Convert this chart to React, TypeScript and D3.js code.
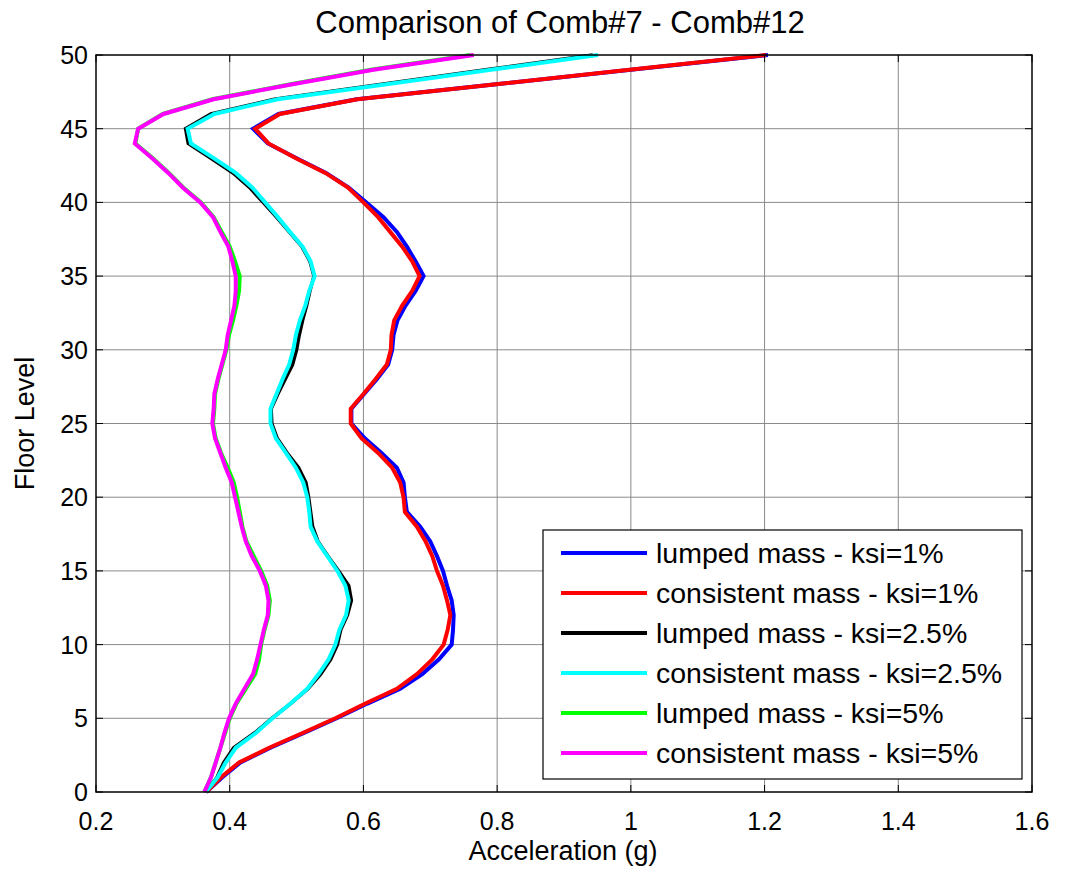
import React from 'react';
import * as d3 from 'd3';

const floors = d3.range(0, 51);

const lumped1 = [0.365, 0.389, 0.416, 0.461, 0.511, 0.560, 0.606, 0.655, 0.688, 0.713, 0.732, 0.734, 0.735, 0.732, 0.725, 0.719, 0.710, 0.700, 0.685, 0.665, 0.662, 0.660, 0.650, 0.627, 0.602, 0.582, 0.582, 0.601, 0.620, 0.637, 0.643, 0.645, 0.651, 0.663, 0.678, 0.690, 0.678, 0.665, 0.650, 0.630, 0.604, 0.578, 0.544, 0.500, 0.457, 0.435, 0.473, 0.590, 0.795, 1.000, 1.205];
const consistent1 = [0.365, 0.387, 0.414, 0.459, 0.509, 0.558, 0.603, 0.650, 0.680, 0.703, 0.720, 0.726, 0.730, 0.725, 0.719, 0.710, 0.703, 0.693, 0.680, 0.662, 0.660, 0.655, 0.643, 0.622, 0.597, 0.581, 0.581, 0.600, 0.618, 0.635, 0.641, 0.642, 0.646, 0.658, 0.673, 0.684, 0.673, 0.658, 0.640, 0.622, 0.600, 0.577, 0.543, 0.499, 0.458, 0.438, 0.475, 0.591, 0.795, 0.998, 1.202];
const lumped25 = [0.364, 0.381, 0.391, 0.406, 0.437, 0.463, 0.491, 0.517, 0.536, 0.551, 0.561, 0.566, 0.576, 0.582, 0.578, 0.563, 0.547, 0.532, 0.524, 0.521, 0.518, 0.514, 0.503, 0.486, 0.471, 0.463, 0.462, 0.472, 0.483, 0.494, 0.500, 0.504, 0.509, 0.515, 0.520, 0.526, 0.520, 0.508, 0.489, 0.470, 0.450, 0.430, 0.405, 0.372, 0.338, 0.334, 0.372, 0.467, 0.625, 0.783, 0.943];
const consistent25 = [0.364, 0.382, 0.394, 0.409, 0.439, 0.464, 0.491, 0.516, 0.533, 0.548, 0.558, 0.564, 0.574, 0.578, 0.573, 0.561, 0.546, 0.531, 0.521, 0.519, 0.516, 0.510, 0.499, 0.484, 0.469, 0.461, 0.461, 0.470, 0.479, 0.489, 0.495, 0.499, 0.505, 0.513, 0.519, 0.527, 0.521, 0.509, 0.490, 0.472, 0.453, 0.434, 0.409, 0.376, 0.342, 0.337, 0.377, 0.472, 0.632, 0.791, 0.951];
const lumped5 = [0.362, 0.372, 0.379, 0.386, 0.393, 0.400, 0.410, 0.424, 0.438, 0.444, 0.447, 0.452, 0.458, 0.460, 0.456, 0.447, 0.436, 0.425, 0.419, 0.415, 0.411, 0.406, 0.397, 0.387, 0.379, 0.375, 0.377, 0.378, 0.383, 0.389, 0.395, 0.399, 0.405, 0.410, 0.414, 0.415, 0.408, 0.400, 0.388, 0.376, 0.357, 0.331, 0.309, 0.285, 0.259, 0.263, 0.300, 0.374, 0.489, 0.611, 0.760];
const consistent5 = [0.362, 0.372, 0.379, 0.386, 0.392, 0.399, 0.409, 0.422, 0.435, 0.441, 0.446, 0.451, 0.457, 0.458, 0.454, 0.445, 0.433, 0.424, 0.418, 0.413, 0.408, 0.403, 0.394, 0.386, 0.378, 0.374, 0.376, 0.377, 0.382, 0.388, 0.394, 0.397, 0.402, 0.407, 0.409, 0.409, 0.404, 0.398, 0.386, 0.375, 0.356, 0.330, 0.308, 0.284, 0.258, 0.263, 0.301, 0.376, 0.492, 0.615, 0.765];

const seriesNames = [
  'lumped mass - ksi=1%',
  'consistent mass - ksi=1%',
  'lumped mass - ksi=2.5%',
  'consistent mass - ksi=2.5%',
  'lumped mass - ksi=5%',
  'consistent mass - ksi=5%',
];
const seriesColors = ['#0000ff', '#ff0000', '#000000', '#00ffff', '#00ff00', '#ff00ff'];
const seriesValues = [lumped1, consistent1, lumped25, consistent25, lumped5, consistent5];

const xTicks = [0.2, 0.4, 0.6, 0.8, 1, 1.2, 1.4, 1.6];
const yTicks = [0, 5, 10, 15, 20, 25, 30, 35, 40, 45, 50];

const W = 1065;
const H = 874;
const left = 96;
const right = 1032;
const top = 55;
const bottom = 792;
const font = '"Liberation Sans", Arial, sans-serif';

export default function App() {
  const x = d3.scaleLinear().domain([0.2, 1.6]).range([left, right]);
  const y = d3.scaleLinear().domain([0, 50]).range([bottom, top]);

  const line = d3.line<[number, number]>()
    .x(d => x(d[0]))
    .y(d => y(d[1]));

  const tickLen = 7;
  const legX = 543;
  const legY = 530;
  const legW = 479;
  const legH = 249;

  return (
    <svg width={W} height={H} style={{ position: 'absolute', left: 0, top: 0, background: '#fff' }}
      fontFamily={font}>
      <rect x={0} y={0} width={W} height={H} fill="#fff" />

      {/* grid */}
      {xTicks.slice(1, -1).map(t => (
        <line key={'gx' + t} x1={x(t)} x2={x(t)} y1={top} y2={bottom}
          stroke="#8a8a8a" strokeWidth={1} />
      ))}
      {yTicks.slice(1, -1).map(t => (
        <line key={'gy' + t} x1={left} x2={right} y1={y(t)} y2={y(t)}
          stroke="#8a8a8a" strokeWidth={1} />
      ))}

      <defs>
        <clipPath id="plotClip">
          <rect x={left} y={top - 3} width={right - left} height={bottom - top + 6} />
        </clipPath>
      </defs>

      {/* curves */}
      <g clipPath="url(#plotClip)">
        {seriesValues.map((vals, i) => (
          <path key={seriesNames[i]}
            d={line(vals.map((v, k) => [v, floors[k]] as [number, number])) || ''}
            fill="none" stroke={seriesColors[i]} strokeWidth={i === 2 ? 3.5 : 4}
            strokeLinejoin="miter" />
        ))}
      </g>

      {/* ticks */}
      {xTicks.map(t => (
        <g key={'tx' + t}>
          <line x1={x(t)} x2={x(t)} y1={bottom} y2={bottom - tickLen} stroke="#000" />
          <line x1={x(t)} x2={x(t)} y1={top} y2={top + tickLen} stroke="#000" />
          <text x={x(t)} y={830} fontSize={25} textAnchor="middle" fill="#000">{String(t)}</text>
        </g>
      ))}
      {yTicks.map(t => (
        <g key={'ty' + t}>
          <line x1={left} x2={left + tickLen} y1={y(t)} y2={y(t)} stroke="#000" />
          <line x1={right} x2={right - tickLen} y1={y(t)} y2={y(t)} stroke="#000" />
          <text x={88} y={y(t) + 9} fontSize={25} textAnchor="end" fill="#000">{t}</text>
        </g>
      ))}

      {/* axes box */}
      <rect x={left} y={top} width={right - left} height={bottom - top} fill="none" stroke="#000" strokeWidth={1.5} />

      {/* labels */}
      <text x={(left + right) / 2 - 4} y={33} fontSize={31} textAnchor="middle" fill="#000">Comparison of Comb#7 - Comb#12</text>
      <text x={(left + right) / 2 - 1} y={860} fontSize={27} textAnchor="middle" fill="#000">Acceleration (g)</text>
      <text transform={`translate(34, ${(top + bottom) / 2}) rotate(-90)`} fontSize={27} textAnchor="middle" fill="#000">Floor Level</text>

      {/* legend */}
      <rect x={legX} y={legY} width={legW} height={legH} fill="#fff" stroke="#000" strokeWidth={1.2} />
      {seriesNames.map((name, i) => {
        const ry = 553 + i * 40;
        return (
          <g key={'leg' + name}>
            <line x1={561} x2={647} y1={ry} y2={ry} stroke={seriesColors[i]} strokeWidth={4} />
            <text x={656} y={ry + 10} fontSize={28.5} fill="#000">{name}</text>
          </g>
        );
      })}
    </svg>
  );
}
